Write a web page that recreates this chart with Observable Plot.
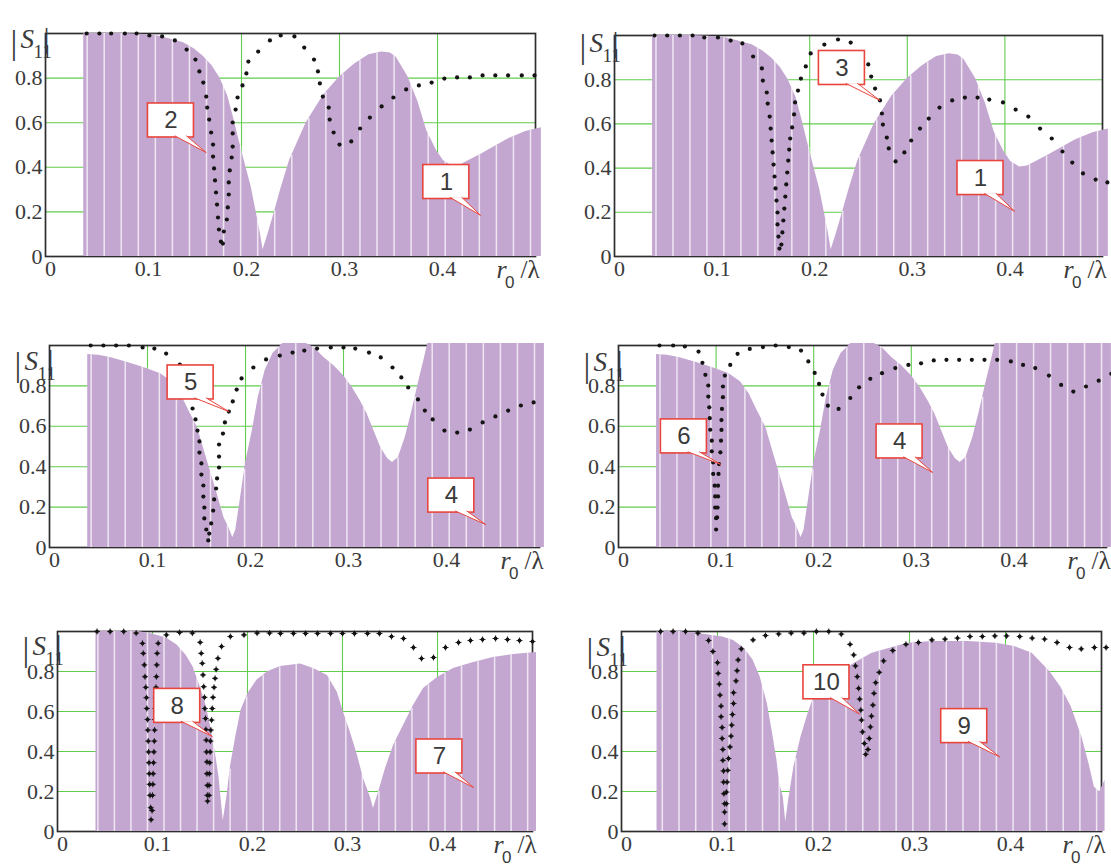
<!DOCTYPE html>
<html><head><meta charset="utf-8">
<script src="https://cdn.jsdelivr.net/npm/d3@7"></script>
<script src="https://cdn.jsdelivr.net/npm/@observablehq/plot@0.6"></script>
<style>
html,body{margin:0;padding:0;background:#fff;}
#wrap{position:relative;width:1111px;height:867px;overflow:hidden;background:#fff;}
#wrap svg{position:absolute;overflow:visible;}
#wrap svg g[font-family^="Liberation Serif"] text{font-family:"Liberation Serif",serif !important;}
</style></head><body><div id="wrap"></div>
<script>
// ---- tick labels ----
const xTicks = [0, 0.1, 0.2, 0.3, 0.4];
const yTicks = [0, 0.2, 0.4, 0.6, 0.8];
const gridX = [0.1, 0.2, 0.3, 0.4];
const gridY = [0.2, 0.4, 0.6, 0.8];

// ---- series (x = r0/lambda, y = |S11|) ----
const curve1 = [[0.039,1.0],[0.06,1.0],[0.08,1.0],[0.10,0.995],[0.114,0.99],[0.13,0.972],[0.141,0.958],[0.152,0.93],[0.161,0.898],[0.170,0.855],[0.178,0.80],[0.186,0.72],[0.192,0.62],[0.197,0.53],[0.204,0.41],[0.210,0.31],[0.215,0.20],[0.219,0.11],[0.222,0.03],[0.227,0.10],[0.233,0.19],[0.240,0.30],[0.249,0.43],[0.266,0.60],[0.284,0.725],[0.300,0.805],[0.315,0.862],[0.330,0.905],[0.343,0.917],[0.352,0.912],[0.358,0.893],[0.370,0.805],[0.380,0.695],[0.389,0.565],[0.399,0.475],[0.406,0.43],[0.415,0.405],[0.423,0.41],[0.432,0.43],[0.445,0.46],[0.457,0.49],[0.472,0.527],[0.490,0.56],[0.506,0.577]];

const curve2 = [[0.042,1.0],[0.055,1.0],[0.067,1.0],[0.081,1.0],[0.093,1.0],[0.106,0.991],[0.119,0.987],[0.132,0.969],[0.144,0.928],[0.153,0.883],[0.157,0.83],[0.161,0.78],[0.164,0.717],[0.165,0.668],[0.167,0.614],[0.169,0.556],[0.171,0.502],[0.171,0.448],[0.172,0.395],[0.173,0.341],[0.174,0.287],[0.175,0.233],[0.176,0.175],[0.177,0.121],[0.179,0.067],[0.181,0.058],[0.182,0.112],[0.185,0.166],[0.186,0.22],[0.187,0.278],[0.187,0.332],[0.188,0.386],[0.190,0.444],[0.191,0.493],[0.191,0.552],[0.191,0.601],[0.194,0.659],[0.196,0.713],[0.201,0.767],[0.205,0.821],[0.207,0.874],[0.217,0.919],[0.229,0.969],[0.240,0.991],[0.254,0.987],[0.264,0.937],[0.274,0.883],[0.278,0.83],[0.280,0.776],[0.283,0.717],[0.289,0.668],[0.290,0.614],[0.294,0.556],[0.300,0.502],[0.312,0.516],[0.321,0.574],[0.331,0.623],[0.343,0.673],[0.355,0.713],[0.368,0.749],[0.381,0.767],[0.394,0.78],[0.407,0.798],[0.420,0.803],[0.433,0.803],[0.446,0.812],[0.459,0.812],[0.472,0.812],[0.486,0.812],[0.499,0.812]];

const curve3 = [[0.041,1.0],[0.054,1.0],[0.067,1.0],[0.080,1.0],[0.092,0.991],[0.106,0.991],[0.119,0.977],[0.131,0.964],[0.142,0.905],[0.151,0.851],[0.152,0.796],[0.156,0.742],[0.157,0.692],[0.159,0.633],[0.160,0.579],[0.161,0.525],[0.162,0.471],[0.163,0.416],[0.164,0.362],[0.165,0.308],[0.166,0.253],[0.167,0.199],[0.167,0.145],[0.168,0.090],[0.169,0.036],[0.171,0.054],[0.172,0.109],[0.173,0.163],[0.174,0.217],[0.175,0.271],[0.176,0.326],[0.177,0.380],[0.178,0.434],[0.179,0.484],[0.180,0.534],[0.182,0.584],[0.184,0.643],[0.185,0.697],[0.188,0.751],[0.191,0.805],[0.196,0.860],[0.201,0.919],[0.215,0.959],[0.229,0.982],[0.242,0.968],[0.254,0.923],[0.260,0.869],[0.263,0.814],[0.267,0.760],[0.272,0.706],[0.274,0.647],[0.275,0.597],[0.279,0.538],[0.281,0.489],[0.288,0.430],[0.297,0.471],[0.304,0.525],[0.313,0.579],[0.322,0.624],[0.333,0.674],[0.346,0.706],[0.359,0.719],[0.372,0.719],[0.384,0.710],[0.398,0.697],[0.411,0.665],[0.424,0.633],[0.436,0.579],[0.448,0.534],[0.459,0.475],[0.469,0.425],[0.480,0.376],[0.493,0.348],[0.505,0.335]];

const curve4 = [[0.039,0.955],[0.05,0.952],[0.062,0.941],[0.080,0.916],[0.096,0.891],[0.113,0.861],[0.125,0.82],[0.134,0.76],[0.142,0.68],[0.151,0.594],[0.157,0.495],[0.164,0.381],[0.171,0.267],[0.178,0.149],[0.183,0.099],[0.187,0.05],[0.190,0.084],[0.195,0.248],[0.200,0.416],[0.207,0.579],[0.213,0.743],[0.220,0.876],[0.228,0.960],[0.234,0.99],[0.238,1.01],[0.262,1.01],[0.270,0.99],[0.280,0.941],[0.290,0.901],[0.300,0.851],[0.309,0.792],[0.317,0.728],[0.324,0.663],[0.331,0.579],[0.338,0.495],[0.345,0.441],[0.350,0.421],[0.356,0.446],[0.363,0.545],[0.370,0.678],[0.377,0.827],[0.382,0.926],[0.386,1.01],[0.505,1.01]];

const curve5 = [[0.042,1.0],[0.055,1.0],[0.068,1.0],[0.081,1.0],[0.095,0.99],[0.107,0.985],[0.119,0.96],[0.133,0.906],[0.139,0.83],[0.143,0.76],[0.146,0.688],[0.149,0.634],[0.151,0.579],[0.153,0.525],[0.153,0.47],[0.155,0.416],[0.155,0.361],[0.157,0.307],[0.157,0.252],[0.158,0.198],[0.158,0.144],[0.160,0.089],[0.162,0.035],[0.163,0.069],[0.165,0.119],[0.167,0.183],[0.168,0.238],[0.170,0.292],[0.171,0.342],[0.173,0.396],[0.173,0.45],[0.173,0.51],[0.177,0.564],[0.179,0.619],[0.183,0.673],[0.187,0.723],[0.191,0.782],[0.196,0.837],[0.208,0.891],[0.221,0.931],[0.235,0.95],[0.248,0.965],[0.260,0.975],[0.273,0.985],[0.287,0.99],[0.300,0.99],[0.312,0.985],[0.326,0.965],[0.338,0.941],[0.350,0.891],[0.359,0.842],[0.366,0.792],[0.376,0.733],[0.383,0.678],[0.391,0.634],[0.403,0.579],[0.416,0.569],[0.429,0.584],[0.442,0.619],[0.455,0.649],[0.468,0.678],[0.481,0.703],[0.494,0.718]];

const curve6 = [[0.042,1.0],[0.056,1.0],[0.068,0.995],[0.082,0.970],[0.086,0.914],[0.089,0.855],[0.092,0.802],[0.092,0.747],[0.093,0.694],[0.0935,0.640],[0.094,0.583],[0.0956,0.529],[0.0956,0.476],[0.097,0.421],[0.097,0.364],[0.0985,0.306],[0.099,0.253],[0.099,0.198],[0.100,0.145],[0.100,0.089],[0.101,0.149],[0.1015,0.198],[0.102,0.253],[0.102,0.306],[0.1025,0.364],[0.103,0.413],[0.1044,0.471],[0.105,0.529],[0.1055,0.582],[0.1055,0.631],[0.106,0.686],[0.107,0.744],[0.107,0.797],[0.109,0.851],[0.1145,0.904],[0.122,0.959],[0.1345,0.983],[0.148,0.992],[0.161,1.0],[0.1745,0.992],[0.187,0.975],[0.1945,0.921],[0.201,0.864],[0.2055,0.810],[0.209,0.757],[0.2145,0.702],[0.2255,0.686],[0.2375,0.740],[0.2465,0.793],[0.258,0.835],[0.270,0.863],[0.2836,0.888],[0.297,0.904],[0.31,0.912],[0.323,0.926],[0.336,0.929],[0.349,0.929],[0.362,0.929],[0.375,0.929],[0.388,0.929],[0.402,0.921],[0.4145,0.904],[0.427,0.888],[0.441,0.851],[0.4535,0.805],[0.466,0.772],[0.479,0.797],[0.492,0.826],[0.505,0.86]];

const curve7 = [[0.0405,1.0],[0.06,1.0],[0.085,1.0],[0.0996,0.988],[0.1146,0.967],[0.1258,0.933],[0.1352,0.883],[0.1427,0.824],[0.1502,0.724],[0.1558,0.64],[0.1614,0.523],[0.1663,0.39],[0.170,0.273],[0.1727,0.139],[0.1745,0.055],[0.1783,0.172],[0.182,0.323],[0.1876,0.473],[0.1933,0.607],[0.2007,0.691],[0.2101,0.758],[0.2213,0.799],[0.2347,0.825],[0.2558,0.838],[0.2695,0.815],[0.2842,0.78],[0.2947,0.695],[0.3011,0.595],[0.3084,0.495],[0.3158,0.38],[0.3221,0.265],[0.3295,0.17],[0.3326,0.115],[0.3379,0.195],[0.3453,0.315],[0.3537,0.43],[0.3642,0.53],[0.3747,0.63],[0.3853,0.715],[0.4,0.77],[0.4168,0.815],[0.4379,0.845],[0.4589,0.87],[0.48,0.885],[0.5042,0.895]];

const curve8 = [[0.0416,1.0],[0.0554,1.0],[0.0697,1.0],[0.0828,0.992],[0.0895,0.941],[0.0903,0.891],[0.0914,0.833],[0.0921,0.774],[0.0929,0.721],[0.0936,0.669],[0.094,0.615],[0.0948,0.56],[0.0951,0.507],[0.0955,0.452],[0.0959,0.398],[0.0963,0.344],[0.0966,0.289],[0.097,0.236],[0.0974,0.181],[0.0981,0.119],[0.0985,0.059],[0.0996,0.105],[0.1,0.181],[0.1004,0.236],[0.1007,0.289],[0.1011,0.344],[0.1015,0.398],[0.1019,0.452],[0.1022,0.507],[0.1026,0.56],[0.103,0.615],[0.1034,0.669],[0.1037,0.721],[0.1041,0.774],[0.1045,0.833],[0.1049,0.891],[0.106,0.941],[0.1146,0.983],[0.1285,0.995],[0.142,0.992],[0.1502,0.946],[0.1513,0.891],[0.1524,0.841],[0.1532,0.783],[0.1539,0.724],[0.1547,0.671],[0.1551,0.615],[0.1558,0.565],[0.1562,0.51],[0.1566,0.457],[0.1569,0.398],[0.1573,0.348],[0.1573,0.289],[0.1577,0.231],[0.1577,0.181],[0.158,0.152],[0.1596,0.181],[0.1596,0.231],[0.1599,0.289],[0.1603,0.344],[0.1607,0.398],[0.161,0.452],[0.1614,0.507],[0.1622,0.557],[0.1629,0.615],[0.1637,0.671],[0.1648,0.721],[0.1659,0.766],[0.167,0.811],[0.1689,0.866],[0.1727,0.925],[0.182,0.975],[0.1963,0.983],[0.2101,0.992],[0.2232,0.992],[0.2347,0.99],[0.2484,0.99],[0.2611,0.99],[0.2737,0.99],[0.2874,0.99],[0.3,0.99],[0.3126,0.99],[0.3263,0.99],[0.3389,0.99],[0.3516,0.975],[0.3642,0.965],[0.3747,0.92],[0.3832,0.865],[0.3958,0.87],[0.4084,0.92],[0.4221,0.945],[0.4347,0.955],[0.4474,0.96],[0.4611,0.965],[0.4737,0.96],[0.4863,0.955],[0.5,0.95]];

const curve9 = [[0.037,1.0],[0.061,1.0],[0.0759,0.992],[0.0907,0.983],[0.1056,0.972],[0.1167,0.955],[0.1278,0.916],[0.137,0.858],[0.1444,0.774],[0.1519,0.64],[0.1574,0.49],[0.1619,0.356],[0.1648,0.239],[0.1685,0.172],[0.1711,0.047],[0.1741,0.156],[0.1796,0.323],[0.187,0.473],[0.1944,0.59],[0.2,0.666],[0.2093,0.732],[0.2241,0.783],[0.2426,0.841],[0.2611,0.891],[0.2796,0.916],[0.2981,0.941],[0.3241,0.95],[0.3611,0.95],[0.3907,0.941],[0.4093,0.925],[0.4278,0.891],[0.4463,0.799],[0.4574,0.724],[0.4685,0.624],[0.4796,0.473],[0.487,0.339],[0.4926,0.222],[0.4981,0.197],[0.5037,0.256]];

const curve10 = [[0.0407,1.0],[0.0537,1.0],[0.0667,1.0],[0.0796,0.992],[0.0907,0.955],[0.0952,0.9],[0.1,0.844],[0.1007,0.791],[0.1019,0.737],[0.1026,0.682],[0.1037,0.627],[0.1037,0.574],[0.1048,0.52],[0.1048,0.465],[0.1056,0.41],[0.1056,0.356],[0.1063,0.303],[0.1063,0.247],[0.1067,0.189],[0.1074,0.139],[0.1074,0.097],[0.1074,0.038],[0.1093,0.139],[0.1093,0.197],[0.11,0.247],[0.1107,0.306],[0.1115,0.365],[0.113,0.423],[0.1141,0.477],[0.1148,0.532],[0.1156,0.585],[0.1167,0.64],[0.1167,0.694],[0.1193,0.753],[0.1204,0.804],[0.1215,0.858],[0.1248,0.913],[0.137,0.958],[0.15,0.98],[0.1637,0.988],[0.1767,0.992],[0.19,0.992],[0.203,1.0],[0.2159,1.0],[0.2289,0.987],[0.2381,0.936],[0.2419,0.883],[0.2437,0.828],[0.2456,0.774],[0.247,0.716],[0.2481,0.662],[0.2493,0.607],[0.25,0.557],[0.2511,0.498],[0.253,0.44],[0.2544,0.386],[0.2567,0.41],[0.2581,0.465],[0.2593,0.523],[0.2604,0.577],[0.2619,0.632],[0.263,0.691],[0.2648,0.744],[0.2685,0.796],[0.273,0.853],[0.2826,0.905],[0.2963,0.936],[0.3093,0.945],[0.3233,0.958],[0.337,0.962],[0.35,0.967],[0.363,0.975],[0.3759,0.975],[0.3889,0.978],[0.4011,0.978],[0.4148,0.975],[0.4278,0.967],[0.4407,0.962],[0.4537,0.945],[0.4667,0.92],[0.4789,0.913],[0.4926,0.92],[0.5048,0.92]];

// ---- callout labels: box centre (x,y) and pointer tip (tx,ty) in data units ----
const notes1 = [{label:"2", x:0.128, y:0.61, tx:0.164, ty:0.466}, {label:"1", x:0.409, y:0.334, tx:0.444, ty:0.184}];
const notes2 = [{label:"3", x:0.233, y:0.853, tx:0.272, ty:0.706}, {label:"1", x:0.375, y:0.355, tx:0.41, ty:0.204}];
const notes3 = [{label:"5", x:0.144, y:0.817, tx:0.183, ty:0.673}, {label:"4", x:0.41, y:0.257, tx:0.445, ty:0.114}];
const notes4 = [{label:"6", x:0.067, y:0.55, tx:0.105, ty:0.411}, {label:"4", x:0.288, y:0.525, tx:0.322, ty:0.371}];
const notes5 = [{label:"8", x:0.126, y:0.628, tx:0.163, ty:0.475}, {label:"7", x:0.402, y:0.375, tx:0.438, ty:0.22}];
const notes6 = [{label:"10", x:0.2135, y:0.746, tx:0.248, ty:0.587}, {label:"9", x:0.357, y:0.527, tx:0.394, ty:0.373}];

// ---- layout ----
const panels = [
  {area: curve1, dots: curve2, notes: notes1, box: [45, 33, 535, 256], sDy: -4, plus: false},
  {area: curve1, dots: curve3, notes: notes2, box: [614, 35, 1102, 256], sDy: -2, plus: false},
  {area: curve4, dots: curve5, notes: notes3, box: [49, 345, 539, 547], sDy: 6, plus: false},
  {area: curve4, dots: curve6, notes: notes4, box: [618, 345, 1106, 547], sDy: 7, plus: false},
  {area: curve7, dots: curve8, notes: notes5, box: [57, 631, 532, 831], sDy: 5, plus: true},
  {area: curve9, dots: curve10, notes: notes6, box: [621, 631, 1101, 831], sDy: 6, plus: true}
];

const PURPLE = "#c4a7d1", GREEN = "#62cc4e", FRAME = "#2e2e2e", RED = "#e8453c", TXT = "#3a3a3a";
const SERIF = "Liberation Serif, Times New Roman, serif";
const SANS = "Liberation Sans, Arial, sans-serif";
const fmt = d => d === 0 ? "0" : d.toFixed(1);
const stripeXs = d3.range(0.0425, 0.506, 0.0174);

function interp(curve, x) {
  for (let i = 1; i < curve.length; i++) {
    const [x0, y0] = curve[i - 1], [x1, y1] = curve[i];
    if (x >= x0 && x <= x1) return x1 === x0 ? Math.max(y0, y1) : y0 + (y1 - y0) * (x - x0) / (x1 - x0);
  }
  return 0;
}

const mL = 48, mT = 36, mR = 14, mB = 44;
const wrap = document.getElementById("wrap");

for (const p of panels) {
  const [L, T, R, B] = p.box;
  const kx = (R - L) / 0.5, ky = (B - T);
  const hw = 23 / kx, hh = 17 / ky;
  const first = p.area[0][0], last = p.area[p.area.length - 1][0];
  const stripes = stripeXs.filter(x => x > first && x < last).map(x => ({x, y: interp(p.area, x)}));
  const boxes = p.notes.map(n => ({...n, x1: n.x - hw, x2: n.x + hw, y1: n.y - hh, y2: n.y + hh}));
  const tails = p.notes.flatMap((n, i) => [
    {id: i, x: n.x + 0.18 * hw, y: n.y - hh + 1.5 / ky},
    {id: i, x: n.tx, y: n.ty},
    {id: i, x: n.x + 0.68 * hw, y: n.y - hh + 1.5 / ky}
  ]);
  const txt = (s, o) => Plot.text([s], {text: d => d, frameAnchor: "top-left", fill: TXT, fontFamily: SERIF, ...o});

  const marks = [
    Plot.ruleX(gridX, {x: d => d, stroke: GREEN, strokeWidth: 1.1}),
    Plot.ruleY(gridY, {y: d => d, stroke: GREEN, strokeWidth: 1.1}),
    Plot.frame({stroke: FRAME, strokeWidth: 1.7}),
    Plot.areaY(p.area, {x: d => d[0], y: d => d[1], fill: PURPLE}),
    Plot.ruleX(stripes, {x: "x", y1: 0, y2: "y", stroke: "#ffffff", strokeOpacity: 0.72, strokeWidth: 1.5}),
    Plot.dot(p.dots, {x: d => d[0], y: d => d[1], r: p.plus ? 1.9 : 2.1, fill: "#141414", stroke: "none"})
  ];
  if (p.plus) marks.push(Plot.dot(p.dots, {x: d => d[0], y: d => d[1], symbol: "plus", r: 2.1, stroke: "#141414", strokeWidth: 0.9}));
  marks.push(
    Plot.rect(boxes, {x1: "x1", x2: "x2", y1: "y1", y2: "y2", fill: "white", stroke: RED, strokeWidth: 1.6}),
    Plot.line(tails, {x: "x", y: "y", z: "id", fill: "white", stroke: RED, strokeWidth: 1}),
    Plot.text(boxes, {x: "x", y: "y", text: "label", fontFamily: SANS, fontSize: 24, fill: TXT}),
    // tick labels
    Plot.text(xTicks, {x: d => d, text: fmt, frameAnchor: "bottom", dy: 19, dx: 5, fontSize: 22, fontFamily: SERIF, fill: TXT}),
    Plot.text(yTicks, {y: d => d, text: fmt, frameAnchor: "left", dx: -3, textAnchor: "end", fontSize: 22, fontFamily: SERIF, fill: TXT}),
    // axis titles
    txt("|", {dx: -35, dy: p.sDy, fontSize: 34}),
    txt("S", {dx: -25, dy: p.sDy - 1, fontSize: 27, fontStyle: "italic"}),
    txt("11", {dx: -12, dy: p.sDy + 15, fontSize: 19}),
    txt("|", {dx: -2, dy: p.sDy - 3, fontSize: 30}),
    Plot.text(["r"], {text: d => d, frameAnchor: "bottom-right", dx: -29, dy: 21, fontSize: 26, fontStyle: "italic", fontFamily: SERIF, fill: TXT}),
    Plot.text(["0"], {text: d => d, frameAnchor: "bottom-right", dx: -21, dy: 31, fontSize: 17, fontFamily: SANS, fill: TXT}),
    Plot.text(["/λ"], {text: d => d, frameAnchor: "bottom-right", textAnchor: "start", dx: -15, dy: 21, fontSize: 25, fontFamily: SERIF, fill: TXT})
  );

  const svg = Plot.plot({
    width: mL + (R - L) + mR,
    height: mT + (B - T) + mB,
    marginLeft: mL, marginTop: mT, marginRight: mR, marginBottom: mB,
    x: {domain: [0, 0.5], axis: null},
    y: {domain: [0, 1], axis: null},
    style: {background: "transparent", overflow: "visible", fontFamily: SERIF, fontSize: "20px", color: TXT},
    marks
  });
  svg.style.left = (L - mL) + "px";
  svg.style.top = (T - mT) + "px";
  wrap.appendChild(svg);
}
</script>
</body></html>
